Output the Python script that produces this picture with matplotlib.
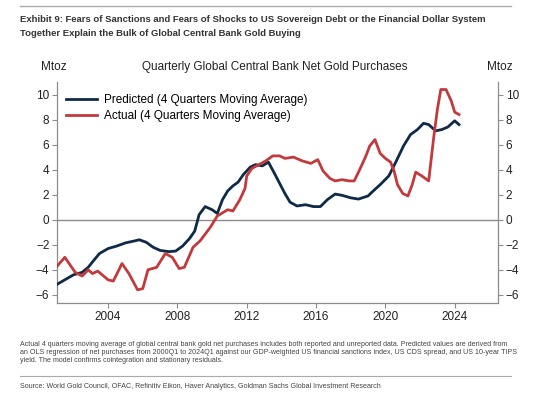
import matplotlib
matplotlib.use("Agg")
import matplotlib.pyplot as plt
from matplotlib.lines import Line2D

plt.rcParams['font.family'] = ['Liberation Sans', 'DejaVu Sans']

# ---- data (decimal years, Mtoz) ----
pred_years = [2001.0, 2001.5, 2002.0, 2002.5, 2002.85, 2003.2, 2003.5, 2004.0, 2004.5, 2005.0,
              2005.5, 2005.8, 2006.2, 2006.6, 2007.0, 2007.5, 2007.9, 2008.3, 2008.7, 2009.0,
              2009.25, 2009.6, 2010.0, 2010.3, 2010.6, 2010.9, 2011.2, 2011.5, 2011.8, 2012.2,
              2012.5, 2012.9, 2013.25, 2013.6, 2013.9, 2014.2, 2014.5, 2014.9, 2015.4, 2015.85,
              2016.25, 2016.65, 2017.1, 2017.5, 2018.0, 2018.45, 2019.0, 2019.3, 2019.7, 2020.2,
              2020.6, 2021.05, 2021.45, 2021.85, 2022.2, 2022.5, 2022.9, 2023.25, 2023.6, 2024.0,
              2024.25]
pred_values = [-5.2, -4.8, -4.4, -4.2, -3.8, -3.2, -2.7, -2.3, -2.1, -1.85,
               -1.7, -1.6, -1.8, -2.2, -2.45, -2.55, -2.5, -2.1, -1.5, -0.9,
               0.4, 1.05, 0.8, 0.5, 1.6, 2.3, 2.7, 3.0, 3.6, 4.2,
               4.4, 4.3, 4.6, 3.7, 2.9, 2.1, 1.4, 1.1, 1.2, 1.05,
               1.05, 1.6, 2.05, 1.95, 1.75, 1.65, 1.9, 2.3, 2.8, 3.5,
               4.6, 5.9, 6.8, 7.2, 7.7, 7.6, 7.1, 7.2, 7.4, 7.9,
               7.6]

act_years = [2001.0, 2001.5, 2002.1, 2002.5, 2002.85, 2003.1, 2003.4, 2004.0, 2004.3, 2004.8,
             2005.2, 2005.7, 2006.0, 2006.3, 2006.8, 2007.3, 2007.7, 2008.1, 2008.4, 2008.9,
             2009.3, 2009.9, 2010.3, 2010.9, 2011.2, 2011.6, 2011.9, 2012.0, 2012.3, 2012.7,
             2013.1, 2013.5, 2013.9, 2014.2, 2014.7, 2015.2, 2015.7, 2016.1, 2016.4, 2016.8,
             2017.1, 2017.5, 2017.9, 2018.2, 2018.45, 2018.85, 2019.1, 2019.4, 2019.7, 2020.0,
             2020.3, 2020.5, 2020.7, 2021.0, 2021.3, 2021.55, 2021.75, 2022.1, 2022.5, 2022.8,
             2023.0, 2023.2, 2023.5, 2023.8, 2024.0, 2024.25]
act_values = [-3.8, -3.0, -4.2, -4.5, -4.0, -4.3, -4.1, -4.8, -4.9, -3.5,
              -4.3, -5.6, -5.5, -4.0, -3.8, -2.7, -3.0, -3.9, -3.8, -2.2,
              -1.7, -0.6, 0.3, 0.8, 0.7, 1.6, 2.5, 3.5, 4.1, 4.4,
              4.7, 5.1, 5.1, 4.9, 5.0, 4.7, 4.5, 4.8, 3.9, 3.3,
              3.1, 3.2, 3.1, 3.1, 3.8, 5.0, 5.9, 6.4, 5.3, 4.9,
              4.6, 3.9, 2.8, 2.1, 1.9, 2.8, 3.8, 3.5, 3.1, 6.7,
              8.8, 10.4, 10.4, 9.5, 8.6, 8.4]

x_ticks = [2004, 2008, 2012, 2016, 2020, 2024]
y_ticks = [-6, -4, -2, 0, 2, 4, 6, 8, 10]

title_lines = ["Exhibit 9: Fears of Sanctions and Fears of Shocks to US Sovereign Debt or the Financial Dollar System",
               "Together Explain the Bulk of Global Central Bank Gold Buying"]
chart_title = "Quarterly Global Central Bank Net Gold Purchases"
unit = "Mtoz"
pred_label = "Predicted (4 Quarters Moving Average)"
act_label = "Actual (4 Quarters Moving Average)"
note_lines = ["Actual 4 quarters moving average of global central bank gold net purchases includes both reported and unreported data. Predicted values are derived from",
              "an OLS regression of net purchases from 2000Q1 to 2024Q1 against our GDP-weighted US financial sanctions index, US CDS spread, and US 10-year TIPS",
              "yield. The model confirms cointegration and stationary residuals."]
source_text = "Source: World Gold Council, OFAC, Refinitiv Eikon, Haver Analytics, Goldman Sachs Global Investment Research"

NAVY = "#0e2a47"
RED = "#c23a3c"
GRAY = "#8c8c8c"
TXT = "#222222"

fig = plt.figure(figsize=(5.47, 3.99), dpi=100)
W, H = 547, 399
ax = fig.add_axes([57 / W, 1 - 303 / H, (498 - 57) / W, (303 - 82) / H])

ax.plot(pred_years, pred_values, color=NAVY, lw=2.0, zorder=3)
ax.plot(act_years, act_values, color=RED, lw=2.0, zorder=3)
ax.axhline(0, color=GRAY, lw=1.0, zorder=1)

ax.set_xlim(2001.05, 2026.5)
ax.set_ylim(-6.65, 11.0)
ax.set_xticks(x_ticks)
ax.set_yticks(y_ticks)
ax.tick_params(axis='both', colors=GRAY, labelcolor=TXT, labelsize=8.5, length=3.5, width=0.8, pad=2)
ax.tick_params(axis='y', labelright=True, right=True)
for s in ['left', 'right', 'bottom']:
    ax.spines[s].set_color(GRAY)
    ax.spines[s].set_linewidth(0.9)
ax.spines['top'].set_visible(False)

handles = [Line2D([], [], color=NAVY, lw=2.0), Line2D([], [], color=RED, lw=2.0)]
ax.legend(handles, [pred_label, act_label], loc='upper left', bbox_to_anchor=(0.0, 0.99),
          frameon=False, fontsize=8.5, handlelength=2.6, handletextpad=0.6,
          labelspacing=0.4, borderaxespad=0.4)

fig.text(275 / W, 1 - 67 / H, chart_title, ha='center', va='center', fontsize=8.5, color=TXT)
fig.text(54 / W, 1 - 67 / H, unit, ha='center', va='center', fontsize=8.5, color=TXT)
fig.text(500 / W, 1 - 67 / H, unit, ha='center', va='center', fontsize=8.5, color=TXT)

fig.canvas.draw()
renderer = fig.canvas.get_renderer()


def fit_size(s, target_w, size, **kw):
    """Font size at which text s spans at most target_w pixels."""
    t = fig.text(0, 0, s, fontsize=size, **kw)
    w = t.get_window_extent(renderer).width
    t.remove()
    return size * min(1.0, target_w / w)


fig.add_artist(Line2D([20 / W, 511 / W], [1 - 6 / H, 1 - 6 / H], color="#aaaaaa", lw=1.0))
title_kw = dict(fontweight='bold', color="#333333", family=['Liberation Sans', 'DejaVu Sans'])
tsize = fit_size(title_lines[0], 466, 8.0, **title_kw)
fig.text(20 / W, 1 - 20 / H, title_lines[0], ha='left', va='center', fontsize=tsize, **title_kw)
fig.text(20 / W, 1 - 33 / H, title_lines[1], ha='left', va='center', fontsize=tsize, **title_kw)

note_kw = dict(color="#444444", family=['Liberation Sans', 'DejaVu Sans'])
nsize = fit_size(note_lines[0], 490, 5.6, **note_kw)
for i, line in enumerate(note_lines):
    fig.text(20 / W, 1 - (344 + 8 * i) / H, line, ha='left', va='center', fontsize=nsize, **note_kw)
fig.add_artist(Line2D([20 / W, 511 / W], [1 - 376 / H, 1 - 376 / H], color="#aaaaaa", lw=0.8))
fig.text(20 / W, 1 - 387 / H, source_text, ha='left', va='center', fontsize=nsize, **note_kw)

fig.savefig("out.png", dpi=100, facecolor="white")
